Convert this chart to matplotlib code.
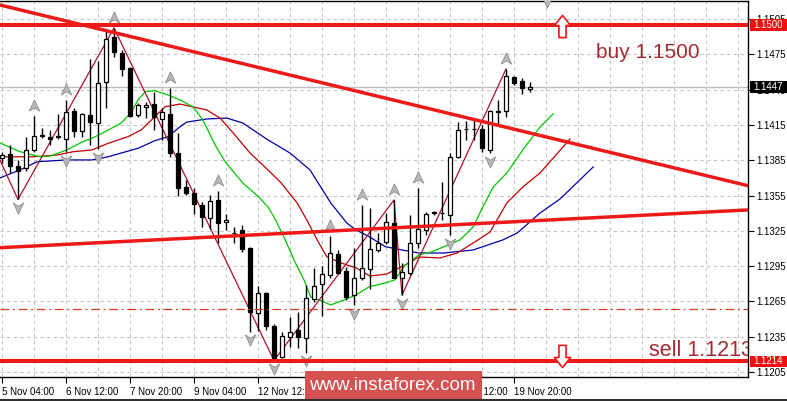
import numpy as np
import matplotlib
matplotlib.use('Agg')
import matplotlib.pyplot as plt
from matplotlib.path import Path
from matplotlib.patches import Rectangle
from matplotlib.lines import Line2D

plt.rcParams['font.family'] = ['Liberation Sans', 'DejaVu Sans']

# ---------------- data (EURUSD H4) ----------------
opens = [1.13870, 1.13904, 1.13802, 1.13785, 1.13938, 1.14061, 1.14048, 1.14048, 1.14029, 1.14269,
         1.14099, 1.14235, 1.14171, 1.14513, 1.14902, 1.14765, 1.14632, 1.14238, 1.14299, 1.14331,
         1.14205, 1.14244, 1.13909, 1.13626, 1.13575, 1.13470, 1.13357, 1.13513, 1.13325, 1.13236,
         1.13258, 1.13107, 1.12555, 1.12720, 1.12441, 1.12175, 1.12345, 1.12408, 1.12337, 1.12671,
         1.12798, 1.12875, 1.13051, 1.12909, 1.12707, 1.12852, 1.12923, 1.13088, 1.13153, 1.13320,
         1.12847, 1.12895, 1.13150, 1.13258, 1.13406, 1.13401, 1.13385, 1.13880, 1.14116, 1.14116,
         1.14114, 1.13938, 1.14260, 1.14271, 1.14556, 1.14525, 1.14454]
highs = [1.13921, 1.13980, 1.13853, 1.14048, 1.14227, 1.14127, 1.14108, 1.14244, 1.14363, 1.14295,
         1.14249, 1.14708, 1.14698, 1.14945, 1.14975, 1.14788, 1.14646, 1.14337, 1.14346, 1.14433,
         1.14295, 1.14462, 1.14080, 1.13683, 1.13612, 1.13498, 1.13555, 1.13589, 1.13391, 1.13280,
         1.13297, 1.13116, 1.12781, 1.12733, 1.12458, 1.12393, 1.12515, 1.12563, 1.12792, 1.12932,
         1.12952, 1.13207, 1.13088, 1.12946, 1.13102, 1.13470, 1.13442, 1.13229, 1.13399, 1.13513,
         1.12975, 1.13385, 1.13612, 1.13413, 1.13419, 1.13668, 1.13909, 1.14178, 1.14184, 1.14198,
         1.14150, 1.14278, 1.14363, 1.14626, 1.14567, 1.14547, 1.14518]
lows = [1.13827, 1.13742, 1.13517, 1.13755, 1.13923, 1.14037, 1.13980, 1.14028, 1.13919, 1.14051,
        1.14045, 1.13980, 1.13946, 1.14292, 1.14731, 1.14568, 1.14221, 1.14221, 1.14207, 1.14105,
        1.14023, 1.13876, 1.13546, 1.13555, 1.13393, 1.13286, 1.13263, 1.13149, 1.13258, 1.13144,
        1.13073, 1.12393, 1.12401, 1.12408, 1.12148, 1.12167, 1.12266, 1.12252, 1.12215, 1.12647,
        1.12526, 1.12847, 1.12883, 1.12663, 1.12620, 1.12833, 1.12753, 1.13073, 1.13136, 1.12847,
        1.12705, 1.12875, 1.13102, 1.13215, 1.13385, 1.13343, 1.13215, 1.13867, 1.14023, 1.14023,
        1.13923, 1.13909, 1.14150, 1.14221, 1.14490, 1.14414, 1.14433]
closes = [1.13895, 1.13802, 1.13759, 1.13938, 1.14057, 1.14053, 1.14035, 1.14053, 1.14258, 1.14099,
          1.14244, 1.14178, 1.14504, 1.14885, 1.14768, 1.14623, 1.14227, 1.14316, 1.14324, 1.14218,
          1.14258, 1.13915, 1.13612, 1.13575, 1.13478, 1.13370, 1.13504, 1.13314, 1.13343, 1.13232,
          1.13093, 1.12563, 1.12725, 1.12441, 1.12167, 1.12357, 1.12393, 1.12345, 1.12682, 1.12784,
          1.12881, 1.13060, 1.12895, 1.12691, 1.12847, 1.12932, 1.13093, 1.13145, 1.13328, 1.12852,
          1.12903, 1.13145, 1.13266, 1.13391, 1.13410, 1.13406, 1.13875, 1.14108, 1.14119, 1.14112,
          1.13952, 1.14269, 1.14265, 1.14567, 1.14505, 1.14466, 1.14470]

# Alligator lines (bar index, price)
lips_x = [-0.25, 2.25, 4.75, 6.0, 8.1, 10.1, 11.25, 12.9, 14.9, 16.1, 17.0, 17.9, 19.1, 20.75, 22.25,
          23.9, 25.1, 26.75, 28.0, 30.1, 32.1, 33.25, 34.0, 35.25, 36.5, 37.75, 38.6, 39.9, 41.1,
          42.75, 44.25, 45.9, 47.9, 49.1, 50.4, 52.1, 53.75, 55.25, 57.25, 58.9, 60.1, 61.4, 63.1,
          65.1, 67.25, 68.9]
lips_y = [1.13997, 1.13923, 1.13880, 1.13886, 1.13938, 1.14008, 1.14037, 1.14093, 1.14167, 1.14252,
          1.14363, 1.14433, 1.14442, 1.14405, 1.14363, 1.14303, 1.14193, 1.13966, 1.13827, 1.13657,
          1.13538, 1.13453, 1.13368, 1.13198, 1.13003, 1.12833, 1.12688, 1.12656, 1.12620, 1.12663,
          1.12705, 1.12775, 1.12807, 1.12833, 1.12960, 1.13045, 1.13073, 1.13116, 1.13173, 1.13283,
          1.13453, 1.13623, 1.13742, 1.13938, 1.14133, 1.14244]
teeth_x = [-0.25, 3.9, 6.9, 8.9, 11.25, 13.25, 15.75, 17.4, 19.1, 20.4, 22.25, 23.9, 25.6, 27.25,
           28.9, 31.0, 33.25, 34.9, 36.9, 38.1, 39.4, 40.6, 42.4, 44.25, 46.0, 48.1, 49.1, 50.4,
           52.1, 54.75, 56.9, 58.9, 61.0, 63.1, 65.1, 67.25, 71.0]
teeth_y = [1.13880, 1.13880, 1.13895, 1.13923, 1.13938, 1.13994, 1.14051, 1.14108, 1.14220, 1.14306,
           1.14328, 1.14303, 1.14278, 1.14209, 1.14082, 1.13912, 1.13768, 1.13657, 1.13487, 1.13343,
           1.13173, 1.13030, 1.12977, 1.12935, 1.12866, 1.12883, 1.12918, 1.12960, 1.13028, 1.13020,
           1.13062, 1.13147, 1.13240, 1.13487, 1.13623, 1.13742, 1.14031]
jaw_x = [-0.25, 2.25, 4.4, 8.1, 11.25, 13.25, 17.0, 19.1, 20.75, 22.25, 23.1, 25.6, 28.1, 30.1,
         33.25, 36.0, 38.5, 41.1, 43.1, 44.25, 45.9, 47.9, 50.0, 52.1, 55.25, 58.9, 62.6, 64.4,
         67.25, 69.75, 73.9]
jaw_y = [1.13700, 1.13768, 1.13838, 1.13853, 1.13853, 1.13880, 1.13952, 1.14017, 1.14050, 1.14135,
         1.14175, 1.14201, 1.14209, 1.14167, 1.14023, 1.13912, 1.13768, 1.13487, 1.13317, 1.13258,
         1.13201, 1.13116, 1.13088, 1.13062, 1.13062, 1.13088, 1.13173, 1.13232, 1.13402, 1.13521,
         1.13793]

zigzag_x = [-3, 2, 14, 34, 49, 50, 63]
zigzag_y = [1.14260, 1.13517, 1.14975, 1.12148, 1.13513, 1.12705, 1.14626]

fractal_up = [4, 8, 14, 21, 27, 41, 45, 49, 52, 63]
fractal_down = [2, 8, 12, 31, 34, 38, 44, 50, 56, 61]

# levels and trend lines
buy_level = 1.1500
sell_level = 1.1214
dash_level = 1.1259
bid = 1.1447
down_trend_x = [-0.25, 93.25]
down_trend_y = [1.15170, 1.13634]
up_trend_x = [-0.25, 93.25]
up_trend_y = [1.13107, 1.13428]

price_ticks = [1.1205, 1.1235, 1.1265, 1.1295, 1.1325, 1.1355, 1.1385, 1.1415, 1.1445, 1.1475, 1.1505]
time_ticks = [0, 8, 16, 24, 32, 40, 48, 56, 64]
time_labels = ['5 Nov 04:00', '6 Nov 12:00', '7 Nov 20:00', '9 Nov 04:00', '12 Nov 12:00',
               '13 Nov 20:00', '15 Nov 04:00', '16 Nov 12:00', '19 Nov 20:00']

# ---------------- figure ----------------
W, H = 787, 401
fig = plt.figure(figsize=(W / 100, H / 100), dpi=100)
fig.patch.set_facecolor('white')
ax = fig.add_axes([0, 24 / H, 748 / W, 376 / H])
ax.set_xlim(-0.25, 93.25)
ax.set_ylim(1.12008, 1.15204)

RED = '#EE1A1A'
GRID = '#C4C4C4'

# grid
for k in range(0, 93, 4):
    ax.axvline(k, color=GRID, lw=0.8, ls=(0, (3, 3)), zorder=0)
for p in price_ticks:
    ax.axhline(p, color=GRID, lw=0.8, ls=(0, (3, 3)), zorder=0)

# bid line
ax.axhline(bid, color='#BDBDBD', lw=1, zorder=1)

# alligator
ax.plot(jaw_x, jaw_y, color='#0000A8', lw=0.9, zorder=2)
ax.plot(teeth_x, teeth_y, color='#C00000', lw=0.9, zorder=2)
ax.plot(lips_x, lips_y, color='#00C800', lw=0.9, zorder=2)

# zigzag
ax.plot(zigzag_x, zigzag_y, color='#B01030', lw=0.9, zorder=2)

# candles
idx = np.arange(len(opens))
o = np.array(opens)
c = np.array(closes)
ax.vlines(idx, lows, highs, color='black', lw=1, zorder=3)
bull = c >= o
ax.bar(idx[bull], (c - o)[bull], bottom=o[bull], width=0.5, color='white',
       edgecolor='black', lw=0.9, zorder=4)
ax.bar(idx[~bull], (c - o)[~bull], bottom=o[~bull], width=0.5, color='black',
       edgecolor='black', lw=0.9, zorder=4)

# fractals
up_head = Path([(0, 1), (0.8, -0.7), (0, -0.2), (-0.8, -0.7), (0, 1)],
               [Path.MOVETO, Path.LINETO, Path.LINETO, Path.LINETO, Path.CLOSEPOLY])
down_head = Path([(0, -1), (0.8, 0.7), (0, 0.2), (-0.8, 0.7), (0, -1)],
                 [Path.MOVETO, Path.LINETO, Path.LINETO, Path.LINETO, Path.CLOSEPOLY])
frac_style = dict(ls='none', ms=9.5, mfc='#B8B8B8', mec='#8E8E8E', mew=0.6, zorder=5)
ax.plot(fractal_up, [highs[k] + 0.00085 for k in fractal_up], marker=up_head, **frac_style)
ax.plot(fractal_down, [lows[k] - 0.00065 for k in fractal_down], marker=down_head, **frac_style)
ax.plot([68.1], [1.15205], marker=down_head, **frac_style)

# horizontal levels and trend lines
ax.axhline(buy_level, color=RED, lw=2.9, zorder=6)
ax.axhline(sell_level, color=RED, lw=2.9, zorder=6)
ax.axhline(dash_level, color='#E03A20', lw=0.9, ls=(0, (7, 3, 1.5, 3)), zorder=6)
ax.plot(down_trend_x, down_trend_y, color=RED, lw=2.5, zorder=6)
ax.plot(up_trend_x, up_trend_y, color=RED, lw=2.5, zorder=6)

# buy / sell arrows
arrow_up = Path([(0, 1), (0.73, 0.09), (0.32, 0.09), (0.32, -1), (-0.32, -1), (-0.32, 0.09),
                 (-0.73, 0.09), (0, 1)],
                [Path.MOVETO] + [Path.LINETO] * 6 + [Path.CLOSEPOLY])
arrow_down = Path([(0, -1), (0.73, -0.09), (0.32, -0.09), (0.32, 1), (-0.32, 1), (-0.32, -0.09),
                   (-0.73, -0.09), (0, -1)],
                  [Path.MOVETO] + [Path.LINETO] * 6 + [Path.CLOSEPOLY])
ax.plot([70], [1.1499], ls='none', marker=arrow_up, ms=16, mfc='white', mec=RED, mew=1.2, zorder=7)
ax.plot([70], [1.12187], ls='none', marker=arrow_down, ms=16, mfc='white', mec=RED, mew=1.2, zorder=7)

ax.text(74.25, 1.14719, 'buy 1.1500', color='#A32A30', fontsize=15, va='baseline', ha='left', zorder=8)
ax.text(80.9, 1.12187, 'sell 1.1213', color='#A32A30', fontsize=15.5, va='baseline', ha='left',
        zorder=8, clip_on=True)

# axes styling
for side in ['top', 'right', 'bottom']:
    ax.spines[side].set_color('black')
    ax.spines[side].set_linewidth(1)
ax.spines['left'].set_visible(False)
ax.yaxis.tick_right()
ax.set_yticks(price_ticks)
ax.set_yticklabels([f'{p:.4f}' for p in price_ticks])
ax.set_xticks(time_ticks)
ax.set_xticklabels(time_labels, ha='left')
ax.tick_params(axis='y', length=4, width=0.8, pad=2, labelsize=7, colors='black')
ax.tick_params(axis='x', length=4, width=0.8, pad=3, labelsize=7, colors='black')

# price tags on the right scale
yt = ax.get_yaxis_transform()
for price, bg in [(buy_level, '#F01010'), (bid, 'black'), (sell_level, '#F01010')]:
    ax.add_patch(Rectangle((1.0027, price - 0.0005), 0.05, 0.001, transform=yt, facecolor=bg,
                           edgecolor='none', clip_on=False, zorder=10))
    ax.text(1.0075, price, f'{price:.4f}', transform=yt, color='white', fontsize=7,
            va='center', ha='left', clip_on=False, zorder=11)

# window border and watermark
fig.add_artist(Line2D([0, 1], [1.5 / H, 1.5 / H], color='#303030', lw=1.5))
fig.add_artist(Rectangle((305 / W, 0), 177 / W, 30 / H, facecolor='#D45252', edgecolor='none'))
fig.text(392 / W, 15 / H, 'www.instaforex.com', color='white', fontsize=13.5, ha='center', va='center')

fig.savefig('out.png', dpi=100)
